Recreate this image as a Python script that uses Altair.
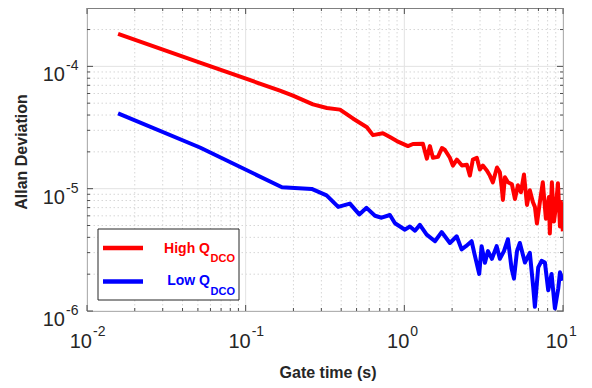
import altair as alt
import pandas as pd

W, H = 476, 303

# Gate time (s) and Allan deviation
red_x = [0.0157, 0.0515, 0.1644, 0.1986, 0.2655, 0.325, 0.393, 0.474, 0.581, 0.634,
         0.733, 0.811, 0.897, 1.054, 1.133, 1.309, 1.387, 1.449, 1.514, 1.629,
         1.726, 1.803, 1.937, 2.023, 2.143, 2.307, 2.478, 2.588, 2.704, 2.864,
         2.992, 3.126, 3.311, 3.459, 3.614, 3.837, 4.0, 4.121, 4.18, 4.305,
         4.498, 4.764, 4.977, 5.2, 5.433, 5.675, 5.93, 6.18, 6.457, 6.65,
         6.85, 7.15, 7.46, 7.80, 8.15, 8.26, 8.51, 8.77, 9.02, 9.29,
         9.57, 9.70, 9.98]
red_y = [1.84e-4, 1.073e-4, 6.34e-5, 5.77e-5, 4.89e-5, 4.57e-5, 4.43e-5, 3.75e-5, 3.18e-5, 2.74e-5,
         2.84e-5, 2.64e-5, 2.45e-5, 2.23e-5, 2.32e-5, 2.33e-5, 1.76e-5, 2.23e-5, 1.79e-5, 1.82e-5,
         2.15e-5, 2.07e-5, 1.79e-5, 1.545e-5, 1.73e-5, 1.545e-5, 1.57e-5, 1.28e-5, 1.73e-5, 1.79e-5,
         1.435e-5, 1.545e-5, 1.41e-5, 1.28e-5, 1.127e-5, 1.49e-5, 1.36e-5, 9.9e-6, 8.09e-6, 1.24e-5,
         1.127e-5, 1.086e-5, 8.24e-6, 1.067e-5, 9.37e-6, 1.306e-5, 7.37e-6, 9.72e-6, 7.79e-6, 7.10e-6,
         5.19e-6, 7.79e-6, 1.127e-5, 5.69e-6, 8.55e-6, 4.31e-6, 1.127e-5, 5.38e-6, 7.10e-6, 1.107e-5,
         4.91e-6, 7.79e-6, 4.48e-6]

blue_x = [0.0157, 0.0515, 0.1694, 0.2606, 0.3236, 0.383, 0.454, 0.520, 0.578, 0.653,
          0.719, 0.811, 0.873, 1.009, 1.084, 1.167, 1.253, 1.383, 1.560, 1.718,
          1.937, 2.138, 2.296, 2.445, 2.655, 2.786, 2.965, 3.069, 3.221, 3.365,
          3.565, 3.819, 4.0, 4.246, 4.498, 4.742, 4.909, 5.129, 5.346, 5.754,
          6.18, 6.49, 6.65, 6.98, 7.33, 7.69, 8.07, 8.47, 8.89, 9.33,
          9.57, 9.93]
blue_y = [4.12e-5, 2.17e-5, 1.028e-5, 9.96e-6, 8.82e-6, 7.10e-6, 7.55e-6, 6.16e-6, 6.97e-6, 6.01e-6,
          5.79e-6, 6.09e-6, 5.22e-6, 4.62e-6, 4.91e-6, 4.53e-6, 5.06e-6, 4.21e-6, 3.72e-6, 4.42e-6,
          3.60e-6, 4.08e-6, 3.19e-6, 3.39e-6, 3.72e-6, 2.82e-6, 2.01e-6, 3.39e-6, 2.48e-6, 3.09e-6,
          2.67e-6, 3.39e-6, 2.67e-6, 3.09e-6, 3.86e-6, 2.22e-6, 1.84e-6, 3.09e-6, 3.60e-6, 2.49e-6,
          2.99e-6, 1.57e-6, 1.083e-6, 2.27e-6, 2.57e-6, 2.49e-6, 1.475e-6, 2.01e-6, 1.05e-6, 1.52e-6,
          2.07e-6, 1.77e-6]

series_names = ["High Q", "Low Q"]
series_colors = ["#ff0000", "#0000ff"]

x_major = [0.01, 0.1, 1, 10]
x_exp = ["-2", "-1", "0", "1"]
y_major = [1e-6, 1e-5, 1e-4]
y_exp = ["-6", "-5", "-4"]
x_minor = [0.02, 0.03, 0.04, 0.05, 0.06, 0.07, 0.08, 0.09,
           0.2, 0.3, 0.4, 0.5, 0.6, 0.7, 0.8, 0.9,
           2, 3, 4, 5, 6, 7, 8, 9]
y_minor = [2e-6, 3e-6, 4e-6, 5e-6, 6e-6, 7e-6, 8e-6, 9e-6,
           2e-5, 3e-5, 4e-5, 5e-5, 6e-5, 7e-5, 8e-5, 9e-5,
           2e-4]

FONT = "Liberation Sans"
TXT = "#262626"

xs = alt.Scale(type="log", domain=[0.01, 10], nice=False)
ys = alt.Scale(type="log", domain=[1e-6, 3e-4], nice=False)

df = pd.concat([
    pd.DataFrame({"t": red_x, "v": red_y, "s": series_names[0]}),
    pd.DataFrame({"t": blue_x, "v": blue_y, "s": series_names[1]}),
])
dxmaj = pd.DataFrame({"t": x_major, "e": x_exp})
dymaj = pd.DataFrame({"v": y_major, "e": y_exp})
dxmin = pd.DataFrame({"t": x_minor})
dymin = pd.DataFrame({"v": y_minor})
one = pd.DataFrame({"a": [0]})

X = lambda: alt.X("t:Q", scale=xs, axis=None)
Y = lambda: alt.Y("v:Q", scale=ys, axis=None)

layers = []
# grids
layers.append(alt.Chart(dxmin).mark_rule(color="#d6d6d6", strokeWidth=1, strokeDash=[1.5, 2.5]).encode(x=X()))
layers.append(alt.Chart(dymin).mark_rule(color="#d6d6d6", strokeWidth=1, strokeDash=[1.5, 2.5]).encode(y=Y()))
layers.append(alt.Chart(dxmaj).mark_rule(color="#e2e2e2", strokeWidth=1).encode(x=X()))
layers.append(alt.Chart(dymaj).mark_rule(color="#e2e2e2", strokeWidth=1).encode(y=Y()))

# inward ticks on all four sides
TC = "#4d4d4d"
for d, L in ((dxmaj, 6), (dxmin, 3)):
    layers.append(alt.Chart(d).mark_rule(color=TC, strokeWidth=1).encode(
        x=X(), y=alt.value(H), y2=alt.value(H - L)))
    layers.append(alt.Chart(d).mark_rule(color=TC, strokeWidth=1).encode(
        x=X(), y=alt.value(0), y2=alt.value(L)))
for d, L in ((dymaj, 6), (dymin, 3)):
    layers.append(alt.Chart(d).mark_rule(color=TC, strokeWidth=1).encode(
        y=Y(), x=alt.value(0), x2=alt.value(L)))
    layers.append(alt.Chart(d).mark_rule(color=TC, strokeWidth=1).encode(
        y=Y(), x=alt.value(W), x2=alt.value(W - L)))

# data lines
layers.append(alt.Chart(df).mark_line(strokeWidth=4, clip=True, strokeJoin="round").encode(
    x=X(), y=Y(),
    color=alt.Color("s:N", scale=alt.Scale(domain=series_names, range=series_colors), legend=None),
    detail="s:N"))

# tick labels
layers.append(alt.Chart(dxmaj).mark_text(align="right", baseline="alphabetic", fontSize=20,
                                         font=FONT, color=TXT, dx=5).encode(
    x=X(), y=alt.value(H + 37), text=alt.value("10")))
layers.append(alt.Chart(dxmaj).mark_text(align="left", baseline="alphabetic", fontSize=14,
                                         font=FONT, color=TXT, dx=6).encode(
    x=X(), y=alt.value(H + 25), text="e:N"))
layers.append(alt.Chart(dymaj).mark_text(align="right", baseline="alphabetic", fontSize=20,
                                         font=FONT, color=TXT, dy=15).encode(
    y=Y(), x=alt.value(-22), text=alt.value("10")))
layers.append(alt.Chart(dymaj).mark_text(align="left", baseline="alphabetic", fontSize=14,
                                         font=FONT, color=TXT, dy=4).encode(
    y=Y(), x=alt.value(-21), text="e:N"))

# axis titles
layers.append(alt.Chart(one).mark_text(align="center", baseline="alphabetic", fontSize=16,
                                       fontWeight="bold", font=FONT, color=TXT).encode(
    x=alt.value(241), y=alt.value(H + 67), text=alt.value("Gate time (s)")))
layers.append(alt.Chart(one).mark_text(align="center", baseline="middle", fontSize=16, angle=270,
                                       fontWeight="bold", font=FONT, color=TXT).encode(
    x=alt.value(-65), y=alt.value(144), text=alt.value("Allan Deviation")))

# legend
layers.append(alt.Chart(one).mark_rect(fill="white", stroke="#262626", strokeWidth=1).encode(
    x=alt.value(11), x2=alt.value(152), y=alt.value(221), y2=alt.value(292)))
for i, (yl, yt, ys_) in enumerate(((240, 245, 254), (273.5, 277, 286.5))):
    col = series_colors[i]
    layers.append(alt.Chart(one).mark_rule(color=col, strokeWidth=4.5).encode(
        x=alt.value(16), x2=alt.value(56), y=alt.value(yl)))
    layers.append(alt.Chart(one).mark_text(align="right", baseline="alphabetic", fontSize=14,
                                           fontWeight="bold", font=FONT, color=col).encode(
        x=alt.value(123), y=alt.value(yt), text=alt.value(series_names[i])))
    layers.append(alt.Chart(one).mark_text(align="left", baseline="alphabetic", fontSize=11,
                                           fontWeight="bold", font=FONT, color=col).encode(
        x=alt.value(123.5), y=alt.value(ys_), text=alt.value("DCO")))

chart = alt.layer(*layers).properties(
    width=W, height=H,
    autosize="none",
    padding={"left": 79, "top": 0, "right": 21, "bottom": 77},
    background="white",
).configure_view(stroke="#808080", strokeWidth=1)

chart.save("out.html", embed_options={"renderer": "svg", "actions": False})
